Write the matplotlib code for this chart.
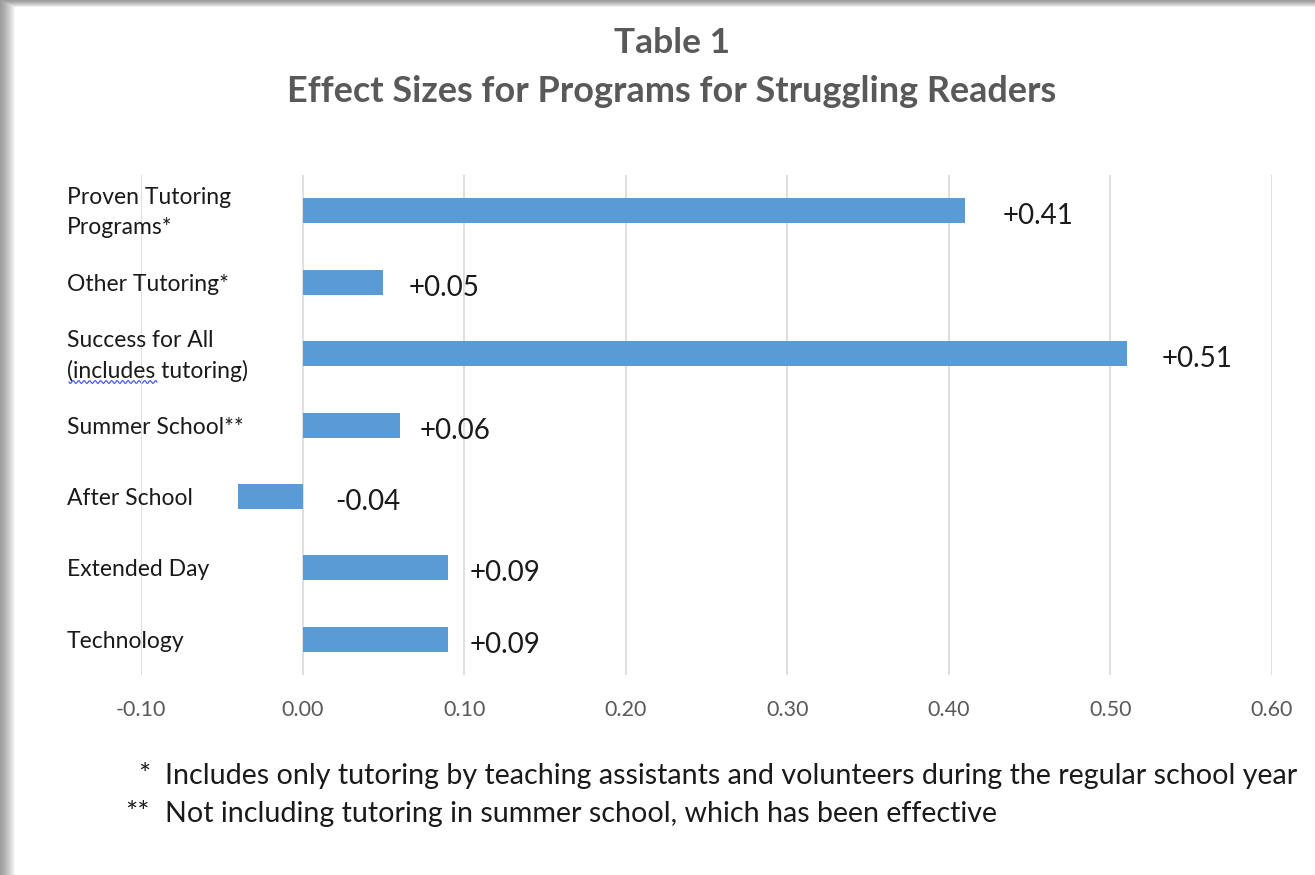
import numpy as np
import matplotlib
matplotlib.use("Agg")
import matplotlib.pyplot as plt

# ---- data ----
categories = ["Proven Tutoring\nPrograms*", "Other Tutoring*", "Success for All\n(includes tutoring)",
              "Summer School**", "After School", "Extended Day", "Technology"]
effect_sizes = [0.41, 0.05, 0.51, 0.06, -0.04, 0.09, 0.09]
value_labels = ["+0.41", "+0.05", "+0.51", "+0.06", "-0.04", "+0.09", "+0.09"]
x_ticks = [-0.10, 0.00, 0.10, 0.20, 0.30, 0.40, 0.50, 0.60]
title_line1 = "Table 1"
title_line2 = "Effect Sizes for Programs for Struggling Readers"
footnote_marks = ["*", "**"]
footnote_texts = ["Includes only tutoring by teaching assistants and volunteers during the regular school year",
                  "Not including tutoring in summer school, which has been effective"]

# ---- style ----
label_pad_px = [38, 25, 35, 20, 33, 22, 22]   # gap between bar end and its label
FONT = ["Lato", "DejaVu Sans"]
plt.rcParams["font.family"] = FONT

W, H, DPI = 1315, 875, 100
PT = 72 / DPI
fig = plt.figure(figsize=(W / DPI, H / DPI), dpi=DPI, facecolor="white")

# shadow frame (top and left) drawn on a background axes
bg = np.ones((H, W, 3))
top_n, left_n = 7, 15
for i in range(top_n):
    v = 0.62 + 0.38 * (i / top_n) ** 1.3
    bg[i, :, :] = np.minimum(bg[i, :, :], v)
for j in range(left_n):
    v = 0.62 + 0.38 * (j / left_n) ** 1.3
    bg[:, j, :] = np.minimum(bg[:, j, :], v)
bgax = fig.add_axes([0, 0, 1, 1], zorder=-5)
bgax.imshow(bg, aspect="auto", interpolation="nearest", extent=(0, W, H, 0))
bgax.set_xlim(0, W)
bgax.set_ylim(H, 0)
bgax.set_axis_off()

# spell-check squiggle under "includes"
sx = np.linspace(69, 157, 80)
sy = 382 + 1.5 * np.sin((sx - 69) * 2 * np.pi / 5.5)
bgax.plot(sx, sy, color="#4a5cf0", linewidth=0.9, zorder=5)

ax_left, ax_right = 141, 1272
ax = fig.add_axes([ax_left / W, 1 - 675 / H, (ax_right - ax_left) / W, (675 - 175) / H], zorder=2)
ax.set_facecolor("none")

y = np.arange(len(categories))
ax.barh(y, effect_sizes, height=0.35, color="#5B9BD5", zorder=3)

ax.set_xlim(x_ticks[0], x_ticks[-1])
ax.set_ylim(len(categories) - 0.5, -0.5)
ax.set_xticks(x_ticks)
ax.set_xticklabels([f"{t:.2f}" for t in x_ticks], color="#595959", fontsize=15.5)
ax.set_yticks(y)
ax.set_yticklabels([])
ax.tick_params(axis="y", length=0)
ax.tick_params(axis="x", length=0, pad=18)
ax.grid(axis="x", color="#D9D9D9", linewidth=1.2, zorder=0)
ax.grid(axis="y", visible=False)
for s in ax.spines.values():
    s.set_visible(False)

# category labels, left-aligned in a column left of the plot
label_x = (67 - ax_left) / (ax_right - ax_left)
for yi, cat in zip(y, categories):
    ax.annotate(cat, xy=(label_x, yi), xycoords=ax.get_yaxis_transform(),
                xytext=(0, -2 * PT), textcoords="offset points",
                ha="left", va="center", fontsize=16.5, color="#1a1a1a",
                linespacing=1.5, annotation_clip=False)

# value labels
for yi, v, lab, pad in zip(y, effect_sizes, value_labels, label_pad_px):
    x_end = max(v, 0)
    ax.annotate(lab, xy=(x_end, yi), xytext=(pad * PT, -4), textcoords="offset points",
                ha="left", va="center", fontsize=20, color="#1a1a1a")

# titles
fig.text(0.511, 1 - 43 / H, title_line1, ha="center", va="center", fontsize=25.5,
         fontweight="bold", color="#595959")
fig.text(0.511, 1 - 92 / H, title_line2, ha="center", va="center", fontsize=25.9,
         fontweight="bold", color="#595959")

# footnotes
for k, (m, txt) in enumerate(zip(footnote_marks, footnote_texts)):
    yy = 1 - (776 + 38 * k) / H
    fig.text(150 / W, yy, m, ha="right", va="center", fontsize=20.6, color="#1a1a1a")
    fig.text(165 / W, yy, txt, ha="left", va="center", fontsize=20.6, color="#1a1a1a")

fig.savefig("out.png", dpi=DPI, facecolor="white")
